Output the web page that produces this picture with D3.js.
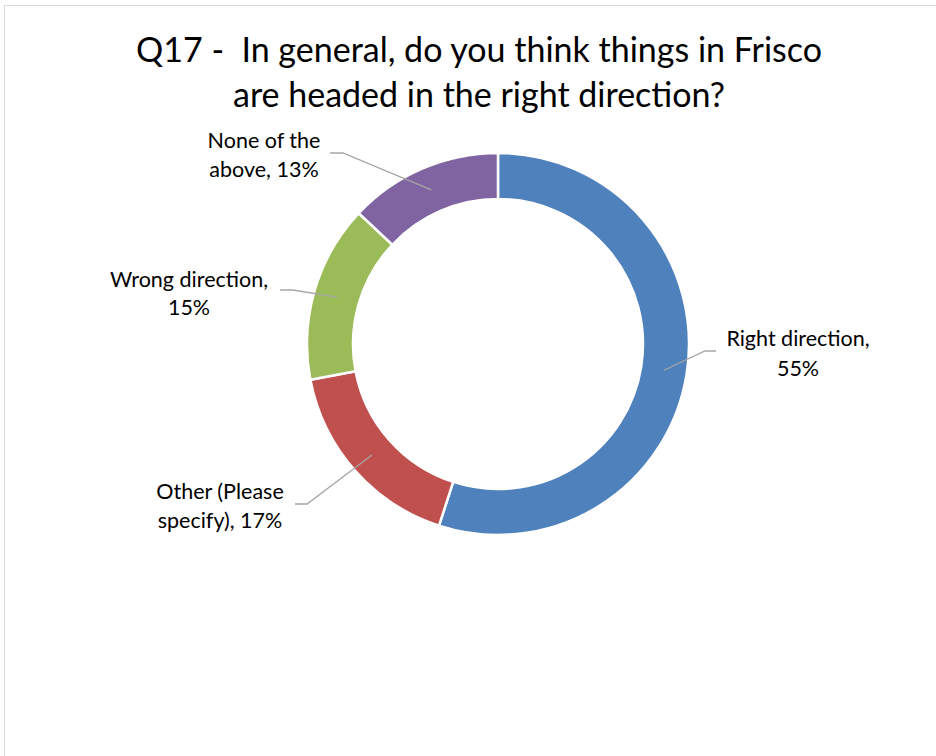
<!DOCTYPE html>
<html><head><meta charset="utf-8">
<script src="https://cdn.jsdelivr.net/npm/d3@7"></script>
<style>body{margin:0;background:#fff} text{white-space:pre}</style>
</head><body>
<script>
const categories = ["Right direction", "Other (Please specify)", "Wrong direction", "None of the above"];
const values = [55, 17, 15, 13];
const colors = ["#4f81bd", "#c0504d", "#9bbb59", "#8064a2"];
const labelLines = [["Right direction,", "55%"], ["Other (Please", "specify), 17%"], ["Wrong direction,", "15%"], ["None of the", "above, 13%"]];

const W = 936, H = 756;
const svg = d3.select("body").append("svg").attr("width", W).attr("height", H);
svg.append("rect").attr("x", 4.5).attr("y", 5.5).attr("width", W + 10).attr("height", H + 10)
  .attr("fill", "#fff").attr("stroke", "#d9d9d9").attr("stroke-width", 1);

const font = "Lato, 'Open Sans', sans-serif";
const title = svg.append("text").attr("text-anchor", "middle").attr("font-family", font)
  .attr("font-size", 34).attr("fill", "#000").attr("xml:space", "preserve");
title.append("tspan").attr("x", 479).attr("y", 62).text("Q17 -  In general, do you think things in Frisco");
title.append("tspan").attr("x", 479).attr("y", 107).text("are headed in the right direction?");

const cx = 498, cy = 344, R = 191, r = 145;
const pie = d3.pie().sort(null).value(d => d)(values);
const arc = d3.arc().innerRadius(r).outerRadius(R);
const g = svg.append("g").attr("transform", `translate(${cx},${cy})`);
g.selectAll("path").data(pie).join("path")
  .attr("d", arc).attr("fill", (d, i) => colors[i])
  .attr("stroke", "#fff").attr("stroke-width", 2.5);

// label layout (positions of text and leader elbows)
const layout = [
  {tx: 798, ty: [346, 376], anchor: "middle", p0: [716, 351], p1: [705, 351]},
  {tx: 220, ty: [499, 528], anchor: "middle", p0: [295, 504], p1: [307, 504]},
  {tx: 189, ty: [287, 315], anchor: "middle", p0: [280, 290], p1: [293, 290]},
  {tx: 264, ty: [148, 177], anchor: "middle", p0: [330, 153], p1: [343, 153]}
];
const mid = d3.arc().innerRadius((R + r) / 2).outerRadius((R + r) / 2);
pie.forEach((d, i) => {
  const c = mid.centroid(d);
  const L = layout[i];
  svg.append("polyline")
    .attr("points", [L.p0, L.p1, [cx + c[0], cy + c[1]]].map(p => p.join(",")).join(" "))
    .attr("fill", "none").attr("stroke", "#a6a6a6").attr("stroke-width", 1.3);
  const t = svg.append("text").attr("font-family", font).attr("font-size", 21.5)
    .attr("fill", "#000").attr("text-anchor", L.anchor);
  labelLines[i].forEach((s, k) => t.append("tspan").attr("x", L.tx).attr("y", L.ty[k]).text(s));
});
</script>
</body></html>
